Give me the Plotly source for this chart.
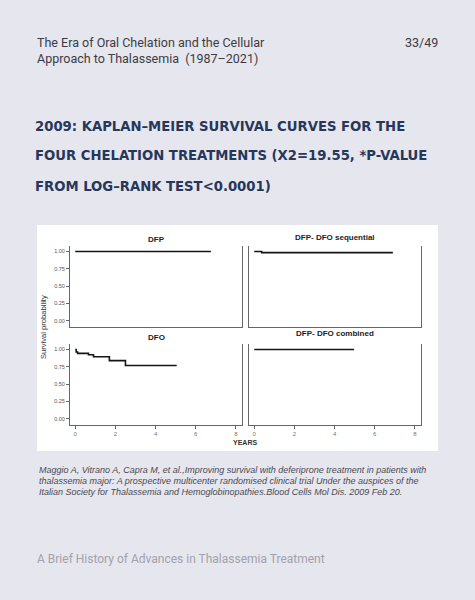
import plotly.graph_objects as go

# page size in px, used to turn pixel positions into paper fractions
W = 475
H = 600

def px(x):
    return x / W

def py(y):
    return 1 - y / H

# Kaplan-Meier curves (years, survival probability)
dfp_t = [0, 6.75]
dfp_s = [1.0, 1.0]

seq_t = [0, 0.37, 6.9]
seq_s = [1.0, 0.985, 0.985]

dfo_t = [0, 0.05, 0.12, 0.66, 0.91, 1.7, 2.5, 5.05]
dfo_s = [1.0, 0.965, 0.945, 0.925, 0.895, 0.84, 0.77, 0.77]

comb_t = [0, 4.97]
comb_s = [1.0, 1.0]

panel_names = ["DFP", "DFP- DFO sequential", "DFO", "DFP- DFO combined"]
y_ticks = [0, 0.25, 0.5, 0.75, 1.0]
y_tick_text = ["0.00", "0.25", "0.50", "0.75", "1.00"]
x_ticks = [0, 2, 4, 6, 8]

citation = [
    "Maggio A, Vitrano A, Capra M, et al.,Improving survival with deferiprone treatment in patients with",
    "thalassemia major: A prospective multicenter randomised clinical trial Under the auspices of the",
    "Italian Society for Thalassemia and Hemoglobinopathies.Blood Cells Mol Dis. 2009 Feb 20.",
]
title_lines = [
    "2009: KAPLAN–MEIER SURVIVAL CURVES FOR THE",
    "FOUR CHELATION TREATMENTS (X2=19.55, *P-VALUE",
    "FROM LOG–RANK TEST<0.0001)",
]

fig = go.Figure()

curves = [(dfp_t, dfp_s), (seq_t, seq_s), (dfo_t, dfo_s), (comb_t, comb_s)]
for i, (t, s) in enumerate(curves):
    n = "" if i == 0 else str(i + 1)
    fig.add_trace(go.Scatter(x=t, y=s, mode="lines", line=dict(color="#151515", width=1.6, shape="hv"),
                             xaxis="x" + n, yaxis="y" + n, showlegend=False, hoverinfo="skip"))

# panel boxes in px: (left, right, top, bottom)
boxes = [(70, 242, 246, 327), (249, 421, 246, 327), (70, 242, 344, 425), (249, 421, 344, 425)]

layout = dict(
    width=W, height=H,
    margin=dict(l=0, r=0, t=0, b=0),
    paper_bgcolor="#e6e6ee",
    plot_bgcolor="white",
    showlegend=False,
)

for i, (l, r, t, b) in enumerate(boxes):
    n = "" if i == 0 else str(i + 1)
    bottom_row = i >= 2
    left_col = i % 2 == 0
    layout["xaxis" + n] = dict(
        domain=[px(l), px(r)], range=[-0.26, 8.3], anchor="y" + n,
        showline=True, linecolor="#666", linewidth=1, showgrid=False, zeroline=False,
        tickvals=x_ticks if bottom_row else [], ticks="outside" if bottom_row else "",
        ticklen=3, tickcolor="#666", tickfont=dict(size=6, color="#777", family="Liberation Sans"),
        showticklabels=bottom_row,
    )
    layout["yaxis" + n] = dict(
        domain=[py(b), py(t)], range=[-0.09, 1.08], anchor="x" + n,
        showline=True, mirror=True, linecolor="#666", linewidth=1, showgrid=False, zeroline=False,
        tickvals=y_ticks if left_col else [], ticktext=y_tick_text if left_col else [],
        ticks="outside" if left_col else "", ticklen=3, tickcolor="#666",
        tickfont=dict(size=5.5, color="#555", family="Liberation Sans"),
        showticklabels=left_col,
    )

fig.update_layout(**layout)

# white card behind the chart
fig.add_shape(type="rect", xref="paper", yref="paper", x0=px(37), x1=px(438), y0=py(451), y1=py(225),
              fillcolor="white", line=dict(width=0), layer="below")

ann = []
# panel titles
title_pos = [(156, 239), (335, 237), (156, 337), (335, 333)]
for name, (x, y) in zip(panel_names, title_pos):
    ann.append(dict(text="<b>" + name + "</b>", x=px(x), y=py(y), xanchor="center", yanchor="middle",
                    font=dict(size=8, color="#222", family="Liberation Sans")))

ann.append(dict(text="Survival probability", x=px(43), y=py(327), textangle=-90, xanchor="center",
                yanchor="middle", font=dict(size=7.6, color="#333", family="Liberation Sans")))
ann.append(dict(text="<b>YEARS</b>", x=px(245), y=py(442), xanchor="center", yanchor="middle",
                font=dict(size=7, color="#333", family="Liberation Sans")))

# header
ann.append(dict(text="The Era of Oral Chelation and the Cellular", x=px(35), y=py(43), xanchor="left",
                yanchor="middle", font=dict(size=12.5, color="#3c3c44", family="Roboto")))
ann.append(dict(text="Approach to Thalassemia  (1987–2021)", x=px(35), y=py(58), xanchor="left",
                yanchor="middle", font=dict(size=12.5, color="#3c3c44", family="Roboto")))
ann.append(dict(text="33/49", x=px(440), y=py(43), xanchor="right", yanchor="middle",
                font=dict(size=12.5, color="#3c3c44", family="Roboto")))

# big title
for line, y in zip(title_lines, [125, 155, 185]):
    ann.append(dict(text="<b>" + line + "</b>", x=px(33), y=py(y), xanchor="left", yanchor="middle",
                    font=dict(size=14.7, color="#27375a",
                              family="Liberation Sans Narrow, DejaVu Sans Condensed, sans-serif")))

# citation
for line, y in zip(citation, [470, 481, 492]):
    ann.append(dict(text="<i>" + line + "</i>", x=px(37), y=py(y), xanchor="left", yanchor="middle",
                    font=dict(size=9, color="#4a4a52", family="Liberation Sans")))

# footer
ann.append(dict(text="A Brief History of Advances in Thalassemia Treatment", x=px(35), y=py(559),
                xanchor="left", yanchor="middle", font=dict(size=12, color="#a2a2ac", family="Roboto")))

for a in ann:
    a.update(xref="paper", yref="paper", showarrow=False)
fig.update_layout(annotations=ann)

# drop the default page margin so the figure sits at the window corner
fig.write_html("out.html", config={"displayModeBar": False},
               post_script="document.body.style.margin='0';document.body.style.background='#e6e6ee';")
